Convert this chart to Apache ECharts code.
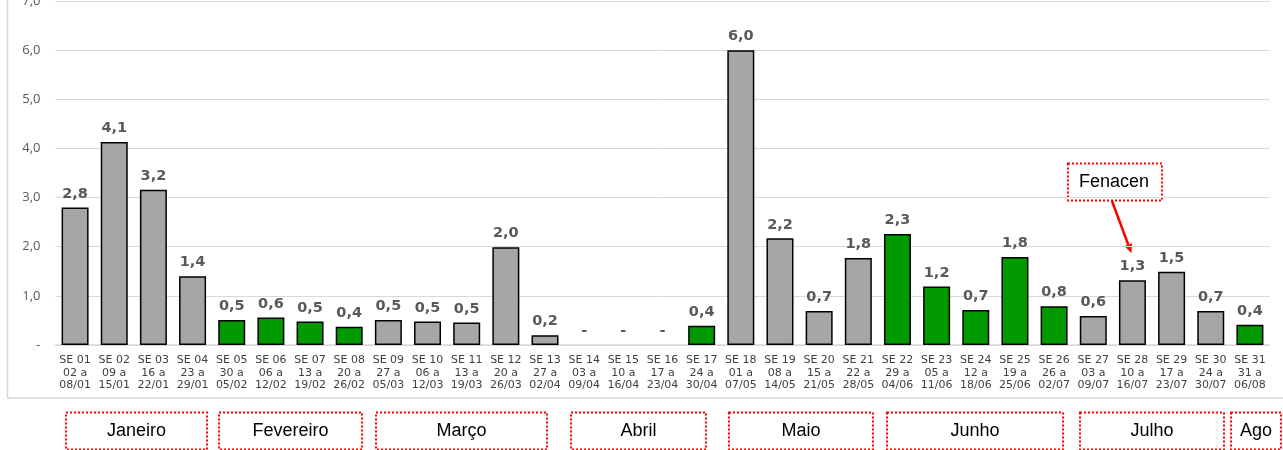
<!DOCTYPE html>
<html>
<head>
<meta charset="utf-8">
<script src="https://cdn.jsdelivr.net/npm/echarts@6/dist/echarts.min.js"></script>
<style>
html,body{margin:0;padding:0;background:#fff;}
#chart{width:1283px;height:450px;}
</style>
</head>
<body>
<div id="chart"></div>
<script>
// Semanas epidemiológicas (rótulos do eixo x)
var weeks = ['SE 01','SE 02','SE 03','SE 04','SE 05','SE 06','SE 07','SE 08','SE 09','SE 10','SE 11','SE 12','SE 13','SE 14','SE 15','SE 16','SE 17','SE 18','SE 19','SE 20','SE 21','SE 22','SE 23','SE 24','SE 25','SE 26','SE 27','SE 28','SE 29','SE 30','SE 31'];
var periodStart = ['02 a','09 a','16 a','23 a','30 a','06 a','13 a','20 a','27 a','06 a','13 a','20 a','27 a','03 a','10 a','17 a','24 a','01 a','08 a','15 a','22 a','29 a','05 a','12 a','19 a','26 a','03 a','10 a','17 a','24 a','31 a'];
var periodEnd = ['08/01','15/01','22/01','29/01','05/02','12/02','19/02','26/02','05/03','12/03','19/03','26/03','02/04','09/04','16/04','23/04','30/04','07/05','14/05','21/05','28/05','04/06','11/06','18/06','25/06','02/07','09/07','16/07','23/07','30/07','06/08'];
// Valores por semana
var values = [2.80,4.13,3.16,1.40,0.51,0.56,0.48,0.37,0.51,0.48,0.46,1.99,0.20,0,0,0,0.39,6.00,2.17,0.69,1.77,2.26,1.19,0.71,1.79,0.79,0.59,1.32,1.49,0.69,0.41];
// 1 = barra verde, 0 = barra cinza
var isGreen = [0,0,0,0,1,1,1,1,0,0,0,0,0,0,0,0,1,0,0,0,0,1,1,1,1,1,0,0,0,0,1];
// Ticks do eixo y
var yTicks = [0,1,2,3,4,5,6,7];
// Meses (caixas abaixo do gráfico)
var months = ['Janeiro','Fevereiro','Março','Abril','Maio','Junho','Julho','Ago'];
var monthBoxes = [[66,207],[219,362],[376,547],[571,706],[729,873],[887,1063],[1080,1224],[1231,1281]];
var annotationText = 'Fenacen';

var GRAY = '#A6A6A6', GREEN = '#009900';

var categories = weeks.map(function(w,i){ return w + '\n' + periodStart[i] + '\n' + periodEnd[i]; });
var barData = values.map(function(v,i){
  return { value: v, itemStyle: { color: isGreen[i] ? GREEN : GRAY, borderWidth: v === 0 ? 0 : 1.5 } };
});

function fmt1(v){ return v === 0 ? '-' : v.toFixed(1).replace('.', ','); }

var BOXFONT = '18px "Liberation Sans", Arial, sans-serif';
var graphics = [
  { type:'rect', shape:{x:7.5,y:-5,width:1300,height:403}, style:{fill:'none',stroke:'#d9d9d9',lineWidth:1.5}, z:-1, silent:true }
];
months.forEach(function(m,i){
  var b = monthBoxes[i];
  graphics.push({ type:'rect', shape:{x:b[0],y:412.5,width:b[1]-b[0],height:37}, style:{fill:'#fff',stroke:'#ff0000',lineWidth:2,lineDash:[2,2]} });
  graphics.push({ type:'text', x:(b[0]+b[1])/2, y:431, style:{text:m, fill:'#000', font:BOXFONT, align:'center', verticalAlign:'middle'} });
});
graphics.push({ type:'rect', shape:{x:1068,y:163.5,width:94,height:37}, style:{fill:'#fff',stroke:'#ff0000',lineWidth:2,lineDash:[2,2]} });
graphics.push({ type:'text', x:1114, y:182, style:{text:annotationText, fill:'#000', font:BOXFONT, align:'center', verticalAlign:'middle'} });

var chart = echarts.init(document.getElementById('chart'), null, {renderer:'canvas'});
chart.setOption({
  animation:false,
  backgroundColor:'#fff',
  grid:{ left:55.5, right:13.5, top:1, bottom:105, containLabel:false, outerBoundsMode:'none' },
  xAxis:{
    type:'category', data:categories,
    axisLine:{ show:true, lineStyle:{ color:'#d9d9d9', width:1.5 } },
    axisTick:{ show:false },
    axisLabel:{ interval:0, color:'#404040', fontFamily:'"DejaVu Sans", Verdana, sans-serif', fontSize:11, lineHeight:12.5, margin:9 }
  },
  yAxis:{
    type:'value', min:yTicks[0], max:yTicks[yTicks.length-1], interval:1,
    axisLine:{ show:false }, axisTick:{ show:false },
    splitLine:{ show:true, lineStyle:{ color:'#d9d9d9', width:1 } },
    axisLabel:{ color:'#595959', fontFamily:'"Open Sans", "Liberation Sans", sans-serif', fontSize:13, margin:15,
      formatter:function(v){ return v === 0 ? '-' : v.toFixed(1).replace('.', ','); } }
  },
  series:[{
    type:'bar', data:barData, barWidth:27,
    itemStyle:{ borderColor:'#000', borderWidth:1.5 },
    label:{ show:true, position:'top', distance:6, color:'#595959', fontWeight:'bold',
      fontFamily:'"DejaVu Sans", Verdana, sans-serif', fontSize:14.5,
      formatter:function(p){ return fmt1(p.value); } }
  }],
  graphic: graphics
});

// Seta da anotação apontando para a SE 28
var tgt = chart.convertToPixel({seriesIndex:0}, [27, values[27]]);
var x0 = 1112, y0 = 201, x1 = tgt[0] - 1, y1 = tgt[1] - 27;
var ang = Math.atan2(y1 - y0, x1 - x0), hl = 9, hw = 4;
var bx = x1 - hl*Math.cos(ang), by = y1 - hl*Math.sin(ang);
chart.setOption({ graphic: graphics.concat([
  { type:'line', shape:{x1:x0,y1:y0,x2:bx,y2:by}, style:{stroke:'#ff0000',lineWidth:2.5} },
  { type:'polygon', shape:{points:[[x1,y1],[bx - hw*Math.sin(ang), by + hw*Math.cos(ang)],[bx + hw*Math.sin(ang), by - hw*Math.cos(ang)]]}, style:{fill:'#ff0000'} }
]) });
</script>
</body>
</html>
